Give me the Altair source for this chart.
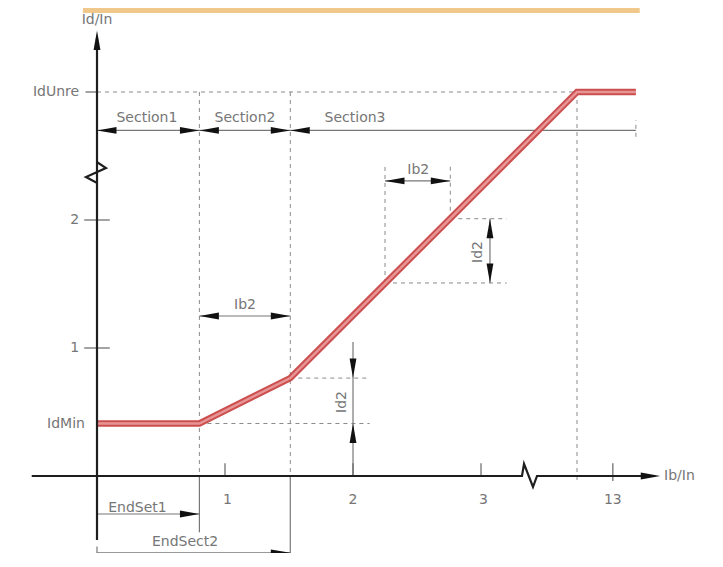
import altair as alt
import pandas as pd

# ---------------- data (diagram units: x = Ib/In, y = Id/In) ----------------
# tripping characteristic
curve_x = [0.00, 0.80, 1.51, 3.75, 4.21]
curve_y = [0.41, 0.41, 0.765, 3.00, 3.00]

# axes drawn as polylines (with break zig-zags)
yaxis_x = [0.00, 0.00, 0.07, -0.086, 0.00, 0.00]
yaxis_y = [-0.50, 2.453, 2.406, 2.336, 2.289, 3.42]
xaxis_x = [-0.51, 3.32, 3.336, 3.406, 3.4375, 4.36]
xaxis_y = [0.00, 0.00, 0.094, -0.086, 0.00, 0.00]

# dashed construction lines (x, y, x2, y2)
dash_x  = [0.00, 0.80, 1.51, 3.75, 2.25, 2.76, 2.25, 2.76, 1.51, 0.80, 4.21]
dash_y  = [3.00, 3.00, 3.00, 3.00, 1.508, 2.01, 1.508, 2.01, 0.765, 0.41, 2.65]
dash_x2 = [3.75, 0.80, 1.51, 3.75, 2.25, 2.76, 3.20, 3.20, 2.13, 2.13, 4.21]
dash_y2 = [3.00, 0.00, 0.00, -0.05, 2.445, 2.445, 1.508, 2.01, 0.765, 0.41, 2.78]

# thin solid dimension lines (x, y, x2, y2)
dim_x  = [0.00, 2.25, 3.07, 0.80, 2.00, 0.00, 0.00, 0.80, 1.51, 0.00]
dim_y  = [2.70, 2.305, 1.508, 1.25, 1.047, -0.297, -0.60, 0.00, 0.00, -0.55]
dim_x2 = [4.21, 2.76, 3.07, 1.51, 2.00, 0.80, 1.51, 0.80, 1.51, 0.00]
dim_y2 = [2.70, 2.305, 2.01, 1.25, 0.00, -0.297, -0.60, -0.44, -0.72, -0.72]

# axis ticks (x, y, x2, y2)
tick_x  = [-0.10, -0.10, -0.09, 1.00, 2.00, 3.00, 4.03]
tick_y  = [1.00, 2.00, 3.00, 0.00, 0.00, 0.00, -0.04]
tick_x2 = [0.10, 0.10, 0.00, 1.00, 2.00, 3.00, 4.03]
tick_y2 = [1.00, 2.00, 3.00, 0.10, 0.10, 0.10, 0.10]

# arrow heads: tip position and direction (0 right, 90 down, 180 left, 270 up)
arrow_x = [0.00, 4.40, 0.00, 0.80, 0.80, 1.51, 1.51, 2.25, 2.76, 3.07, 3.07,
           0.80, 1.51, 2.00, 2.00, 0.80, 1.51]
arrow_y = [3.48, 0.00, 2.70, 2.70, 2.70, 2.70, 2.70, 2.305, 2.305, 2.01, 1.508,
           1.25, 1.25, 0.765, 0.41, -0.297, -0.60]
arrow_dir = [270, 0, 180, 0, 180, 0, 180, 180, 0, 270, 90,
             180, 0, 90, 270, 0, 0]

# labels
center_text = ["Id/In", "Section1", "Section2", "Section3", "Ib2", "Ib2",
               "1", "2", "3", "13", "EndSet1", "EndSect2"]
center_x = [0.00, 0.39, 1.156, 2.016, 2.51, 1.156, 1.02, 2.00, 3.02, 4.03, 0.316, 0.6875]
center_y = [3.56, 2.80, 2.80, 2.80, 2.39, 1.336, -0.19, -0.19, -0.19, -0.19, -0.25, -0.516]

right_text = ["IdUnre", "2", "1", "IdMin"]
right_x = [-0.14, -0.14, -0.14, -0.094]
right_y = [3.00, 2.00, 1.00, 0.406]

left_text = ["Ib/In"]
left_x = [4.43]
left_y = [0.00]

rot_text = ["Id2", "Id2"]
rot_x = [2.98, 1.914]
rot_y = [1.75, 0.578]

banner_x, banner_x2 = [-0.11], [4.24]
banner_y, banner_y2 = [3.656], [3.617]

# ---------------- chart ----------------
W, H = 707, 545
XS = alt.Scale(domain=[-0.6953, 4.828], nice=False, zero=False)
YS = alt.Scale(domain=[-0.6016, 3.65625], nice=False, zero=False)

def X(f="x"):
    return alt.X(f"{f}:Q", scale=XS, axis=None)

def Y(f="y"):
    return alt.Y(f"{f}:Q", scale=YS, axis=None)

def seg_df(a, b, c, d):
    return pd.DataFrame({"x": a, "y": b, "x2": c, "y2": d})

FONT = "DejaVu Sans"
TXT = "#767676"

banner = alt.Chart(seg_df(banner_x, banner_y, banner_x2, banner_y2)).mark_rect(
    color="#f1c88c").encode(x=X(), y=Y(), x2="x2:Q", y2="y2:Q")

dashed = alt.Chart(seg_df(dash_x, dash_y, dash_x2, dash_y2)).mark_rule(
    color="#8a8a8a", strokeWidth=1, strokeDash=[4, 4]).encode(
    x=X(), y=Y(), x2="x2:Q", y2="y2:Q")

dims = alt.Chart(seg_df(dim_x, dim_y, dim_x2, dim_y2)).mark_rule(
    color="#777777", strokeWidth=1.2).encode(x=X(), y=Y(), x2="x2:Q", y2="y2:Q")

ticks = alt.Chart(seg_df(tick_x, tick_y, tick_x2, tick_y2)).mark_rule(
    color="#666666", strokeWidth=1.2).encode(x=X(), y=Y(), x2="x2:Q", y2="y2:Q")

axes_df = pd.concat([
    pd.DataFrame({"x": yaxis_x, "y": yaxis_y, "path": "y", "order": range(len(yaxis_x))}),
    pd.DataFrame({"x": xaxis_x, "y": xaxis_y, "path": "x", "order": range(len(xaxis_x))}),
])
axes = alt.Chart(axes_df).mark_line(color="#1e1e1e", strokeWidth=2.2).encode(
    x=X(), y=Y(), detail="path:N", order="order:Q")

curve_df = pd.DataFrame({"x": curve_x, "y": curve_y, "order": range(len(curve_x))})
curve_outer = alt.Chart(curve_df).mark_line(
    color="#cc4f4f", strokeWidth=6.5, strokeJoin="miter").encode(x=X(), y=Y(), order="order:Q")
curve_inner = alt.Chart(curve_df).mark_line(
    color="#e89595", strokeWidth=2.5, strokeJoin="miter").encode(x=X(), y=Y(), order="order:Q")

arrows = alt.Chart(pd.DataFrame({"x": arrow_x, "y": arrow_y, "a": arrow_dir})).mark_point(
    shape="M0,0L-2,-0.35L-2,0.35Z", filled=True, color="#111111", size=380, opacity=1,
    strokeWidth=0).encode(x=X(), y=Y(), angle=alt.Angle("a:Q", scale=None))

def text_layer(t, xs, ys, align, angle=0):
    return alt.Chart(pd.DataFrame({"t": t, "x": xs, "y": ys})).mark_text(
        font=FONT, fontSize=14, color=TXT, align=align, baseline="middle",
        angle=angle).encode(x=X(), y=Y(), text="t:N")

texts = [
    text_layer(center_text, center_x, center_y, "center"),
    text_layer(right_text, right_x, right_y, "right"),
    text_layer(left_text, left_x, left_y, "left"),
    text_layer(rot_text, rot_x, rot_y, "center", 270),
]

chart = alt.layer(banner, dashed, dims, ticks, curve_outer, curve_inner, axes, arrows,
                  *texts).properties(
    width=W, height=H, padding=0,
    autosize=alt.AutoSizeParams(type="none"),
    background="white",
).configure_view(stroke=None)

chart.save("out.html", embed_options={"renderer": "svg", "actions": False})
